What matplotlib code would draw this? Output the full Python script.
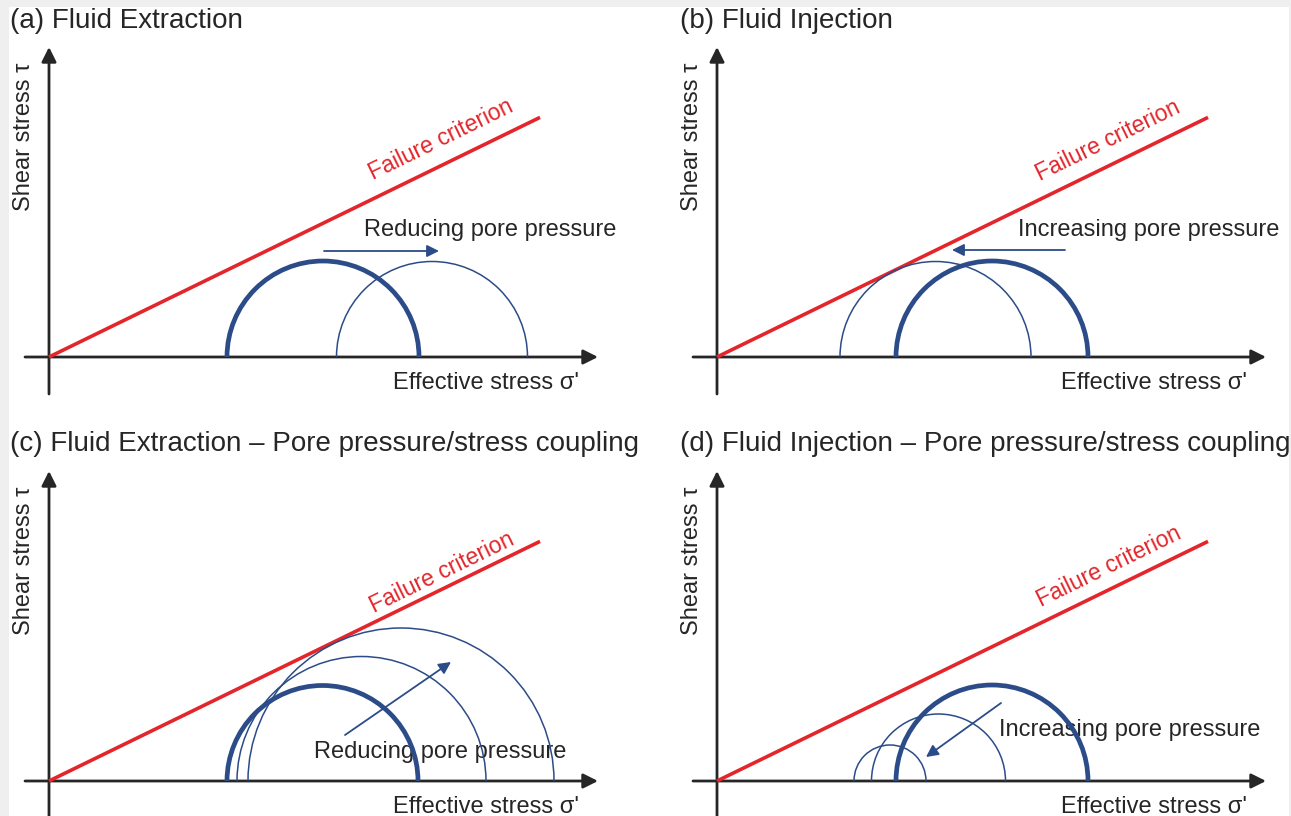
import numpy as np
import matplotlib
matplotlib.use('Agg')
import matplotlib.pyplot as plt
from matplotlib.patches import Arc, Rectangle

plt.rcParams['font.family'] = ['Liberation Sans', 'DejaVu Sans']

W, H = 1291, 816

titles = ['(a) Fluid Extraction', '(b) Fluid Injection',
          '(c) Fluid Extraction – Pore pressure/stress coupling',
          '(d) Fluid Injection – Pore pressure/stress coupling']
# Mohr circles (centre on the σ' axis, radius); first one is the initial state
centres = [[274, 383], [275, 218.5], [273.5, 312.5, 352], [275, 221.5, 173]]
radii = [[96, 95.5], [96, 95.5], [95.5, 124.5, 153], [96, 67, 36]]
friction = 0.488          # slope of the failure envelope
envelope_end = 491
arrow_from = [(275, 106), (348, 107), (296, 46), (284, 78)]
arrow_to = [(390, 106), (235, 107), (402, 119), (209, 24)]
arrow_text = ['Reducing pore pressure', 'Increasing pore pressure',
              'Reducing pore pressure', 'Increasing pore pressure']
text_xy = [(315, 127), (301, 127), (265, 29), (282, 51)]
fail_xy = [(392, 217), (391, 216), (393, 208), (392, 214)]

# panel origins in figure pixels
origins = [(49, 357), (717, 357), (49, 781), (717, 781)]
title_xy = [(10, 21), (680, 21), (10, 444), (680, 444)]

RED = '#e3262b'
BLUE = '#2b4c88'
INK = '#262626'

fig = plt.figure(figsize=(W / 100, H / 100), dpi=100, facecolor='#efefef')
fig.patches.append(Rectangle((9 / W, 0), (1289 - 9) / W, (H - 7) / H,
                             transform=fig.transFigure, facecolor='white',
                             edgecolor='none', zorder=-10))

for i, (ox, oy) in enumerate(origins):
    ax = fig.add_axes([(ox - 45) / W, (H - oy - 45) / H, 640 / W, 400 / H])
    ax.set_xlim(-45, 595)
    ax.set_ylim(-45, 355)
    ax.axis('off')

    # axes with arrow heads
    ax.annotate('', xy=(549, 0), xytext=(-24, 0),
                arrowprops=dict(arrowstyle='-|>', color=INK, lw=2,
                                mutation_scale=22, shrinkA=0, shrinkB=0))
    ax.annotate('', xy=(0, 310), xytext=(0, -37),
                arrowprops=dict(arrowstyle='-|>', color=INK, lw=2,
                                mutation_scale=22, shrinkA=0, shrinkB=0))

    # failure envelope
    xs = np.array([0, envelope_end])
    ax.plot(xs, friction * xs, color=RED, lw=2.6, solid_capstyle='butt', zorder=3)
    ang = np.degrees(np.arctan(friction))
    ax.text(*fail_xy[i], 'Failure criterion', color=RED, fontsize=16.5,
            rotation=ang, rotation_mode='anchor', ha='center', va='center')

    # Mohr circles
    for k, (c, r) in enumerate(zip(centres[i], radii[i])):
        ax.add_patch(Arc((c, 0), 2 * r, 2 * r, theta1=0, theta2=180,
                         color=BLUE, lw=3.4 if k == 0 else 1.1, zorder=4))

    ax.text(*text_xy[i], arrow_text[i], fontsize=17, color=INK,
            ha='left', va='center', zorder=2)
    ax.annotate('', xy=arrow_to[i], xytext=arrow_from[i],
                arrowprops=dict(arrowstyle='-|>', color=BLUE, lw=1.3,
                                mutation_scale=18, shrinkA=0, shrinkB=0),
                zorder=5)

    ax.text(530, -26, "Effective stress σ'", fontsize=17, color=INK,
            ha='right', va='center')
    ax.text(-25, 220, 'Shear stress τ', fontsize=17, color=INK,
            rotation=90, ha='center', va='center')

for (tx, ty), t in zip(title_xy, titles):
    fig.text(tx / W, 1 - ty / H, t, fontsize=20, color=INK,
             ha='left', va='center')

fig.savefig('out.png', dpi=100, facecolor=fig.get_facecolor())
